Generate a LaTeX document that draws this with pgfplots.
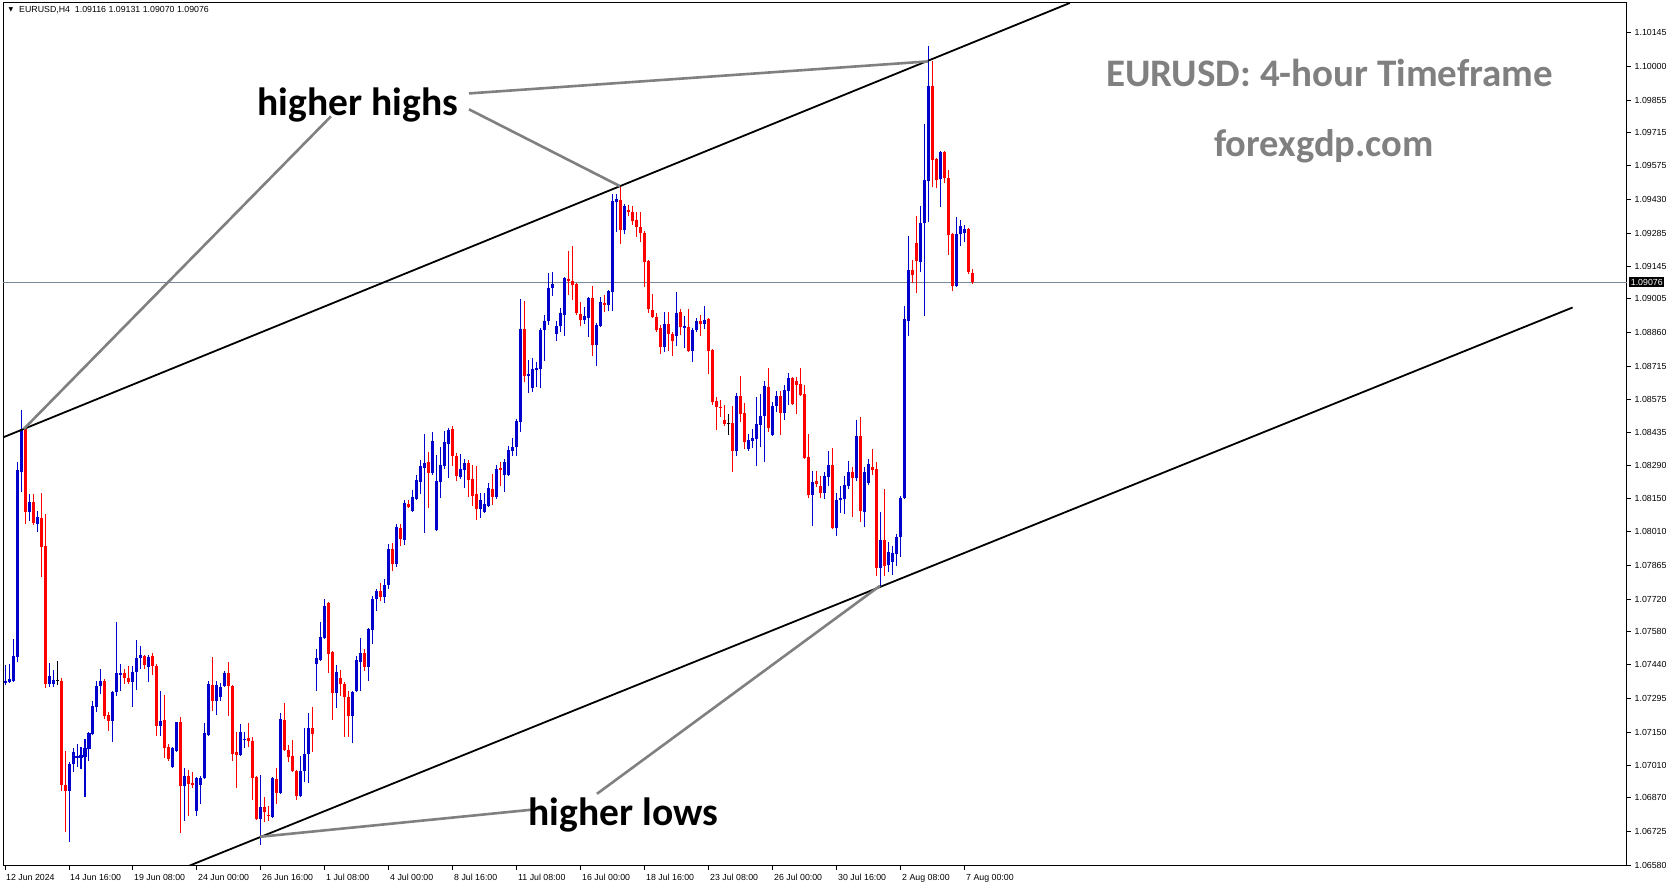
\documentclass[border=0pt]{standalone}
\usepackage{fontspec}
\setmainfont{Liberation Sans}
\newfontfamily\calib{Carlito}
\newfontfamily\djv{DejaVu Sans}
\usepackage{pgfplots}
\usepackage{pgfplotstable}
\pgfplotsset{compat=1.18}
\definecolor{mtblue}{RGB}{0,0,204}
\definecolor{mtred}{RGB}{255,0,0}
\definecolor{bidline}{RGB}{119,136,153}
\definecolor{anngray}{RGB}{128,128,128}

% bullish candles: index open high low close
\pgfplotstableread{
i o h l c
0 1.07362 1.07439 1.07353 1.07370
1 1.07366 1.07443 1.07362 1.07379
2 1.07370 1.07550 1.07366 1.07477
3 1.07473 1.08307 1.07452 1.08272
4 1.08264 1.08529 1.08178 1.08448
6 1.08093 1.08170 1.08054 1.08136
8 1.08042 1.08097 1.08007 1.08072
11 1.07358 1.07447 1.07345 1.07392
12 1.07358 1.07417 1.07345 1.07375
16 1.06900 1.07024 1.06682 1.07016
17 1.07016 1.07084 1.06981 1.07067
18 1.07041 1.07101 1.07003 1.07050
19 1.07041 1.07088 1.06994 1.07054
20 1.07046 1.07122 1.06875 1.07084
21 1.07080 1.07152 1.07028 1.07148
22 1.07144 1.07285 1.07140 1.07264
23 1.07259 1.07370 1.07238 1.07349
24 1.07349 1.07422 1.07315 1.07370
27 1.07199 1.07328 1.07110 1.07323
28 1.07323 1.07623 1.07306 1.07405
29 1.07396 1.07443 1.07328 1.07405
32 1.07366 1.07435 1.07259 1.07409
33 1.07409 1.07546 1.07332 1.07469
34 1.07469 1.07520 1.07422 1.07482
36 1.07430 1.07482 1.07366 1.07473
39 1.07178 1.07328 1.07135 1.07199
42 1.07003 1.07088 1.06998 1.07084
43 1.07071 1.07195 1.07067 1.07195
45 1.06922 1.06998 1.06772 1.06964
48 1.06815 1.06960 1.06793 1.06956
49 1.06926 1.06964 1.06845 1.06956
50 1.06956 1.07191 1.06952 1.07148
51 1.07140 1.07370 1.07135 1.07358
53 1.07285 1.07370 1.07225 1.07353
54 1.07302 1.07362 1.07285 1.07345
55 1.07349 1.07413 1.07345 1.07405
59 1.07054 1.07187 1.07050 1.07152
60 1.07118 1.07152 1.07084 1.07122
64 1.06780 1.06969 1.06669 1.06832
67 1.06789 1.06960 1.06785 1.06956
69 1.06892 1.07234 1.06887 1.07208
74 1.06879 1.07050 1.06875 1.06986
75 1.06986 1.07169 1.06939 1.07058
76 1.07058 1.07234 1.06934 1.07169
78 1.07443 1.07507 1.07328 1.07469
79 1.07460 1.07623 1.07456 1.07559
80 1.07554 1.07721 1.07550 1.07691
83 1.07319 1.07439 1.07255 1.07409
87 1.07221 1.07328 1.07105 1.07323
88 1.07328 1.07477 1.07323 1.07460
89 1.07452 1.07554 1.07328 1.07490
91 1.07430 1.07598 1.07370 1.07593
92 1.07589 1.07734 1.07529 1.07721
93 1.07721 1.07764 1.07670 1.07755
95 1.07730 1.07807 1.07704 1.07781
96 1.07781 1.07956 1.07764 1.07935
98 1.07871 1.08042 1.07858 1.08029
100 1.07973 1.08144 1.07952 1.08131
102 1.08097 1.08187 1.08093 1.08157
103 1.08149 1.08251 1.08144 1.08230
104 1.08221 1.08315 1.08170 1.08290
105 1.08281 1.08426 1.08003 1.08302
107 1.08260 1.08435 1.08251 1.08396
108 1.08016 1.08337 1.08012 1.08225
109 1.08221 1.08371 1.08153 1.08294
110 1.08290 1.08439 1.08277 1.08392
111 1.08384 1.08452 1.08238 1.08444
114 1.08243 1.08341 1.08234 1.08277
115 1.08272 1.08320 1.08196 1.08302
119 1.08106 1.08174 1.08067 1.08144
120 1.08093 1.08174 1.08089 1.08127
121 1.08119 1.08217 1.08114 1.08196
123 1.08157 1.08294 1.08149 1.08277
125 1.08251 1.08320 1.08178 1.08307
126 1.08251 1.08375 1.08247 1.08358
127 1.08354 1.08409 1.08332 1.08371
128 1.08371 1.08491 1.08332 1.08482
129 1.08478 1.09004 1.08435 1.08875
131 1.08674 1.08743 1.08602 1.08683
132 1.08623 1.08751 1.08606 1.08704
133 1.08700 1.08734 1.08627 1.08708
134 1.08704 1.08880 1.08623 1.08871
135 1.08871 1.08935 1.08738 1.08909
136 1.08909 1.09115 1.08892 1.09051
137 1.09051 1.09119 1.09016 1.09068
138 1.08854 1.08909 1.08824 1.08888
139 1.08888 1.08965 1.08862 1.08944
140 1.08935 1.09098 1.08845 1.09093
145 1.08914 1.08969 1.08897 1.08931
146 1.08922 1.09012 1.08841 1.09008
148 1.08807 1.08901 1.08717 1.08892
149 1.08888 1.09012 1.08884 1.08991
151 1.08978 1.09042 1.08952 1.09038
152 1.09033 1.09452 1.08952 1.09422
153 1.09418 1.09452 1.09290 1.09431
155 1.09299 1.09410 1.09281 1.09401
165 1.08798 1.08948 1.08777 1.08897
168 1.08845 1.09033 1.08803 1.08944
170 1.08880 1.08931 1.08794 1.08888
172 1.08781 1.08880 1.08734 1.08871
173 1.08871 1.08922 1.08862 1.08909
175 1.08897 1.08974 1.08875 1.08914
183 1.08354 1.08602 1.08332 1.08589
186 1.08362 1.08426 1.08354 1.08401
187 1.08396 1.08448 1.08366 1.08409
188 1.08405 1.08585 1.08290 1.08469
189 1.08465 1.08597 1.08371 1.08503
190 1.08503 1.08653 1.08307 1.08632
192 1.08422 1.08563 1.08418 1.08546
193 1.08546 1.08610 1.08520 1.08589
195 1.08516 1.08636 1.08486 1.08614
196 1.08610 1.08687 1.08550 1.08666
202 1.08166 1.08268 1.08033 1.08221
205 1.08174 1.08264 1.08149 1.08247
206 1.08243 1.08354 1.08204 1.08294
208 1.08025 1.08174 1.07990 1.08144
209 1.08144 1.08204 1.08089 1.08153
210 1.08149 1.08247 1.08084 1.08208
211 1.08204 1.08311 1.08191 1.08264
213 1.08238 1.08486 1.08225 1.08418
215 1.08093 1.08285 1.08029 1.08264
216 1.08217 1.08320 1.08208 1.08298
219 1.07853 1.08093 1.07777 1.07973
221 1.07866 1.07965 1.07836 1.07922
222 1.07879 1.07948 1.07824 1.07918
223 1.07913 1.07999 1.07862 1.07986
224 1.07986 1.08161 1.07901 1.08153
225 1.08153 1.08974 1.08149 1.08918
226 1.08909 1.09273 1.08845 1.09128
229 1.09162 1.09401 1.09119 1.09328
230 1.09328 1.09752 1.08931 1.09512
231 1.09508 1.10089 1.09333 1.09914
234 1.09517 1.09636 1.09397 1.09632
238 1.09059 1.09354 1.09055 1.09281
239 1.09281 1.09341 1.09230 1.09316
240 1.09286 1.09320 1.09247 1.09303
}\bull

% bearish candles
\pgfplotstableread{
i o h l c
5 1.08448 1.08461 1.08042 1.08093
7 1.08136 1.08170 1.08037 1.08046
9 1.08067 1.08174 1.07815 1.07943
10 1.07948 1.08084 1.07341 1.07358
14 1.07370 1.07383 1.06900 1.06926
15 1.06926 1.07071 1.06725 1.06900
25 1.07370 1.07379 1.07208 1.07221
26 1.07225 1.07238 1.07157 1.07199
30 1.07405 1.07422 1.07358 1.07383
31 1.07383 1.07435 1.07358 1.07366
35 1.07477 1.07482 1.07422 1.07439
37 1.07477 1.07490 1.07396 1.07435
38 1.07435 1.07443 1.07135 1.07178
40 1.07204 1.07311 1.07041 1.07084
41 1.07088 1.07101 1.07028 1.07037
44 1.07195 1.07217 1.06721 1.06922
46 1.06964 1.06990 1.06793 1.06930
47 1.06934 1.06981 1.06913 1.06926
52 1.07353 1.07473 1.07242 1.07285
56 1.07405 1.07452 1.07221 1.07349
57 1.07349 1.07353 1.07028 1.07058
58 1.07067 1.07152 1.06913 1.07054
61 1.07127 1.07191 1.07088 1.07114
62 1.07114 1.07131 1.06862 1.06956
63 1.06960 1.06964 1.06776 1.06780
65 1.06832 1.06875 1.06768 1.06810
66 1.06798 1.06836 1.06772 1.06793
68 1.06952 1.06998 1.06845 1.06892
70 1.07204 1.07276 1.07071 1.07075
71 1.07075 1.07097 1.07024 1.07046
72 1.07050 1.07118 1.06981 1.06986
73 1.06986 1.06990 1.06862 1.06879
77 1.07169 1.07259 1.07067 1.07144
81 1.07704 1.07708 1.07405 1.07486
82 1.07494 1.07499 1.07204 1.07319
84 1.07383 1.07417 1.07306 1.07358
85 1.07358 1.07366 1.07131 1.07302
86 1.07302 1.07328 1.07131 1.07221
90 1.07490 1.07507 1.07413 1.07430
94 1.07755 1.07789 1.07712 1.07730
97 1.07935 1.07960 1.07841 1.07871
99 1.08025 1.08042 1.07948 1.07978
101 1.08127 1.08144 1.08110 1.08114
106 1.08307 1.08349 1.08110 1.08260
112 1.08448 1.08461 1.08290 1.08332
113 1.08332 1.08345 1.08225 1.08247
116 1.08302 1.08315 1.08157 1.08230
117 1.08234 1.08294 1.08119 1.08161
118 1.08170 1.08290 1.08059 1.08106
122 1.08191 1.08255 1.08123 1.08157
124 1.08281 1.08307 1.08204 1.08272
130 1.08875 1.08995 1.08649 1.08674
141 1.09089 1.09209 1.09021 1.09080
142 1.09080 1.09230 1.08999 1.09063
143 1.09068 1.09072 1.08935 1.08944
144 1.08939 1.08991 1.08888 1.08914
147 1.09008 1.09059 1.08760 1.08807
150 1.08986 1.09021 1.08948 1.08978
154 1.09427 1.09487 1.09239 1.09299
156 1.09384 1.09405 1.09358 1.09375
157 1.09375 1.09401 1.09320 1.09337
158 1.09341 1.09375 1.09269 1.09311
159 1.09311 1.09375 1.09247 1.09286
160 1.09286 1.09294 1.09055 1.09162
161 1.09166 1.09170 1.08944 1.08961
162 1.08956 1.09025 1.08922 1.08927
163 1.08927 1.08944 1.08862 1.08871
164 1.08880 1.08892 1.08768 1.08798
166 1.08897 1.08948 1.08781 1.08854
167 1.08854 1.08862 1.08760 1.08824
169 1.08948 1.08961 1.08850 1.08884
171 1.08884 1.08961 1.08777 1.08781
174 1.08909 1.08935 1.08845 1.08897
176 1.08918 1.08922 1.08683 1.08781
177 1.08786 1.08790 1.08550 1.08563
178 1.08567 1.08585 1.08444 1.08542
179 1.08542 1.08572 1.08499 1.08538
180 1.08486 1.08550 1.08461 1.08469
182 1.08473 1.08546 1.08264 1.08354
184 1.08589 1.08674 1.08478 1.08512
185 1.08516 1.08559 1.08362 1.08392
191 1.08627 1.08708 1.08435 1.08452
194 1.08589 1.08610 1.08422 1.08516
197 1.08666 1.08670 1.08550 1.08555
198 1.08653 1.08670 1.08512 1.08636
199 1.08640 1.08708 1.08589 1.08593
200 1.08597 1.08636 1.08320 1.08324
201 1.08328 1.08426 1.08153 1.08166
203 1.08225 1.08268 1.08200 1.08213
204 1.08204 1.08247 1.08153 1.08174
207 1.08294 1.08366 1.08020 1.08025
212 1.08264 1.08285 1.08072 1.08238
214 1.08418 1.08499 1.08050 1.08097
217 1.08285 1.08362 1.08251 1.08272
218 1.08277 1.08307 1.07819 1.07853
220 1.07973 1.08191 1.07819 1.07862
227 1.09128 1.09170 1.09072 1.09106
228 1.09243 1.09358 1.09029 1.09166
232 1.09914 1.10021 1.09482 1.09598
233 1.09602 1.09606 1.09478 1.09512
235 1.09632 1.09636 1.09499 1.09521
236 1.09521 1.09555 1.09192 1.09277
237 1.09281 1.09286 1.09038 1.09059
241 1.09303 1.09307 1.09110 1.09119
242 1.09116 1.09131 1.09070 1.09076
}\bear

% doji candles
\pgfplotstableread{
i o h l c
13 1.07370 1.07456 1.07353 1.07370
181 1.08473 1.08512 1.08422 1.08473
}\doji

\pgfplotsset{
  candlepart/.style 2 args={draw=none, mark=none, forget plot,
    error bars/.cd, y dir=plus, y explicit, error mark=none,
    error bar style={draw=#1, line width=#2, line cap=butt}},
}

\begin{document}
\begin{tikzpicture}
\path[use as bounding box] (-3pt,-22pt) rectangle (1670pt,866pt);
\begin{axis}[
  at={(0,0)}, anchor=south west,
  scale only axis, width=1624pt, height=863pt,
  xmin=-0.5, xmax=405.5,
  ymin=1.06578, ymax=1.10271,
  axis line style={line width=1pt},
  xtick={0,16,...,240},
  xticklabels={12 Jun 2024, 14 Jun 16:00, 19 Jun 08:00, 24 Jun 00:00, 26 Jun 16:00, 1 Jul 08:00, 4 Jul 00:00, 8 Jul 16:00, 11 Jul 08:00, 16 Jul 00:00, 18 Jul 16:00, 23 Jul 08:00, 26 Jul 00:00, 30 Jul 16:00, 2 Aug 08:00, 7 Aug 00:00},
  ytick={1.10145,1.10000,1.09855,1.09715,1.09575,1.09430,1.09285,1.09145,1.09005,1.08860,1.08715,1.08575,1.08435,1.08290,1.08150,1.08010,1.07865,1.07720,1.07580,1.07440,1.07295,1.07150,1.07010,1.06870,1.06725,1.06580},
  yticklabels={1.10145,1.10000,1.09855,1.09715,1.09575,1.09430,1.09285,1.09145,1.09005,1.08860,1.08715,1.08575,1.08435,1.08290,1.08150,1.08010,1.07865,1.07720,1.07580,1.07440,1.07295,1.07150,1.07010,1.06870,1.06725,1.06580},
  xtick pos=bottom, ytick pos=right, yticklabel pos=right,
  tick align=outside, major tick length=4pt,
  tick style={black, line width=1pt},
  xticklabel style={anchor=north west, inner sep=0pt, xshift=1pt, yshift=-4pt, font=\fontsize{8.8}{10}\selectfont},
  yticklabel style={anchor=west, inner sep=0pt, xshift=3.5pt, font=\fontsize{8.8}{10}\selectfont},
]
% bid line
\addplot[bidline, line width=1pt, forget plot] coordinates {(-0.5,1.09076) (405.5,1.09076)};

% wicks and bodies
\addplot[candlepart={mtblue}{1pt}] table[x=i, y=l, y error plus expr=\thisrow{h}-\thisrow{l}] {\bull};
\addplot[candlepart={mtblue}{3pt}] table[x=i, y=o, y error plus expr=\thisrow{c}-\thisrow{o}] {\bull};
\addplot[candlepart={mtred}{1pt}] table[x=i, y=l, y error plus expr=\thisrow{h}-\thisrow{l}] {\bear};
\addplot[candlepart={mtred}{3pt}] table[x=i, y=c, y error plus expr=\thisrow{o}-\thisrow{c}] {\bear};
\addplot[candlepart={black}{1pt}] table[x=i, y=l, y error plus expr=\thisrow{h}-\thisrow{l}] {\doji};
\addplot[black, only marks, mark=-, mark size=1.5pt, mark options={line width=1pt}, forget plot] table[x=i, y=o] {\doji};

% channel lines
\draw[black, line width=1.8pt] (axis cs:-0.5,1.08412) -- (axis cs:266.2,1.10271);
\draw[black, line width=1.8pt] (axis cs:45.9,1.06578) -- (axis cs:391.9,1.08968);

% pointer lines
\draw[anngray, line width=2.6pt] (axis cs:116,1.09884) -- (axis cs:230.75,1.10021);
\draw[anngray, line width=2.6pt] (axis cs:116,1.09816) -- (axis cs:153.75,1.09487);
\draw[anngray, line width=2.6pt] (axis cs:81.5,1.09786) -- (axis cs:4.7,1.08448);
\draw[anngray, line width=2.6pt] (axis cs:131.75,1.06819) -- (axis cs:63.75,1.06703);
\draw[anngray, line width=2.6pt] (axis cs:148,1.06887) -- (axis cs:218.75,1.07777);

\node[inner sep=0pt, font=\calib\bfseries\fontsize{39.5}{41}\selectfont] at (axis cs:88.2,1.09836) {higher highs};
\node[inner sep=0pt, font=\calib\bfseries\fontsize{39.5}{41}\selectfont] at (axis cs:154.6,1.06796) {higher lows};
\node[inner sep=0pt, text=anngray, font=\calib\bfseries\fontsize{39}{41}\selectfont] at (axis cs:331.2,1.09970) {EURUSD: 4-hour Timeframe};
\node[inner sep=0pt, text=anngray, font=\calib\bfseries\fontsize{38.5}{40}\selectfont] at (axis cs:329.75,1.09656) {forexgdp.com};

\coordinate (bid) at (axis cs:405.5,1.09076);
\end{axis}
\node[anchor=west, fill=black, text=white, inner xsep=1.7pt, inner ysep=2pt, font=\fontsize{8.8}{10}\selectfont] at ([xshift=2pt]bid) {1.09076};
\node[inner sep=0pt, font=\djv\fontsize{6}{6}\selectfont] at (8pt,856pt) {▼};
\node[anchor=west, inner sep=0pt, font=\fontsize{8.8}{10}\selectfont] at (16pt,856pt) {EURUSD,H4\ \ 1.09116 1.09131 1.09070 1.09076};
\end{tikzpicture}
\end{document}
